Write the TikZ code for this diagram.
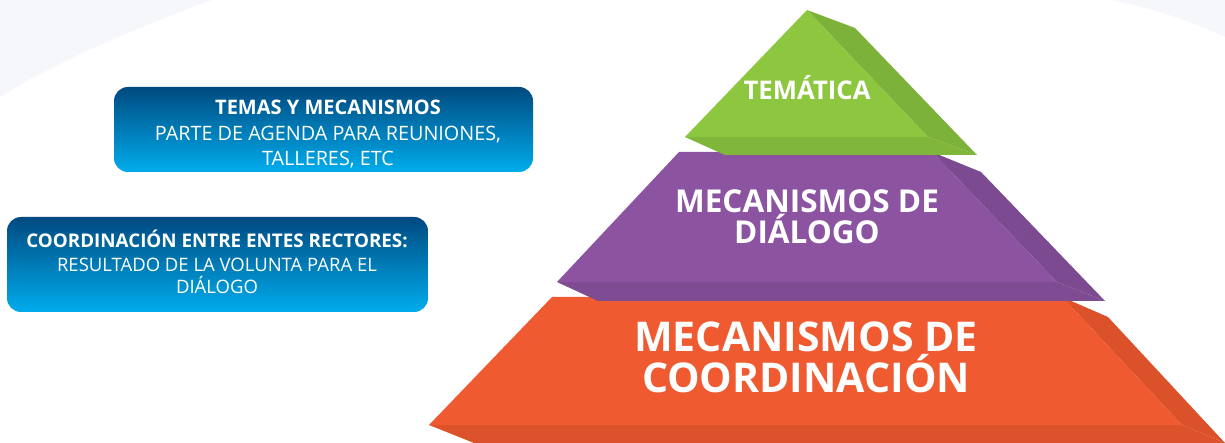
\documentclass[tikz,border=0pt]{standalone}
\usepackage{fontspec}
\setmainfont{Open Sans}
\definecolor{bgfaint}{RGB}{245,247,250}
\definecolor{grF}{RGB}{141,198,63}
\definecolor{grS}{RGB}{125,178,58}
\definecolor{grB}{RGB}{128,183,59}
\definecolor{puF}{RGB}{139,83,160}
\definecolor{puS}{RGB}{124,74,144}
\definecolor{puB}{RGB}{127,75,146}
\definecolor{orF}{RGB}{240,90,48}
\definecolor{orS}{RGB}{218,81,42}
\definecolor{orB}{RGB}{220,82,42}
\definecolor{bxTop}{RGB}{0,74,128}
\definecolor{bxBot}{RGB}{0,172,236}
\tikzset{
  infobox/.style={rounded corners=14pt, top color=bxTop, bottom color=bxBot, draw=none},
  lbl/.style={text=white, anchor=base, inner sep=0pt, font=\bfseries},
  boxline/.style={text=white, anchor=base, inner sep=0pt},
}
\begin{document}
\begin{tikzpicture}[x=1pt,y=-1pt]
\path[use as bounding box] (0,0) rectangle (1225,443);
% faint background shapes
\fill[bgfaint] (0,0) -- (212,0) .. controls (130,30) and (50,65) .. (0,97) -- cycle;
\fill[bgfaint] (1110,0) -- (1225,0) -- (1225,37) .. controls (1190,20) and (1150,8) .. (1110,0) -- cycle;

% orange tier
\fill[orB] (429,425) -- (1182,425) -- (1225,443) -- (474,443) -- cycle;
\fill[orS] (1062,297) -- (1108,317) -- (1225,443) -- (1182,425) -- cycle;
\fill[orF] (552,297) -- (1062,297) -- (1182,425) -- (429,425) -- cycle;
% purple tier
\fill[puB] (557,282) -- (1057,282) -- (1105,301) -- (598,301) -- cycle;
\fill[puS] (932,152) -- (981,172) -- (1105,301) -- (1057,282) -- cycle;
\fill[puF] (679,152) -- (932,152) -- (1057,282) -- (557,282) -- cycle;
% green tier
\fill[grB] (685,137) -- (928,137) -- (977,155) -- (725,155) -- cycle;
\fill[grS] (807,10) -- (855,28) -- (977,155) -- (928,137) -- cycle;
\fill[grF] (807,10) -- (928,137) -- (685,137) -- cycle;

% pyramid labels
\node[lbl, font=\bfseries\fontsize{41}{41}\selectfont] (or1) at (806,351) {MECANISMOS DE};
\node[lbl, font=\bfseries\fontsize{41}{41}\selectfont] (or2) at (806,392) {COORDINACIÓN};
\node[lbl, font=\bfseries\fontsize{31.5}{31.5}\selectfont] (pu1) at (807,213) {MECANISMOS DE};
\node[lbl, font=\bfseries\fontsize{31.5}{31.5}\selectfont] (pu2) at (807,244) {DIÁLOGO};
\node[lbl, font=\bfseries\fontsize{25.7}{25.7}\selectfont] (gr1) at (807,100) {TEMÁTICA};

% info boxes
\path[infobox] (114,87) rectangle (533,172);
\node[boxline, font=\bfseries\fontsize{20}{20}\selectfont] (b1a) at (328,115) {TEMAS Y MECANISMOS};
\node[boxline, font=\fontsize{19.8}{19.8}\selectfont] (b1b) at (328,141) {PARTE DE AGENDA PARA REUNIONES,};
\node[boxline, font=\fontsize{19.8}{19.8}\selectfont] (b1c) at (328,166) {TALLERES, ETC};

\path[infobox] (7,217) rectangle (428,312);
\node[boxline, font=\bfseries\fontsize{18.8}{18.8}\selectfont] (b2a) at (217,248) {COORDINACIÓN ENTRE ENTES RECTORES:};
\node[boxline, font=\fontsize{18.5}{18.5}\selectfont] (b2b) at (217,272) {RESULTADO DE LA VOLUNTA PARA EL};
\node[boxline, font=\fontsize{18.5}{18.5}\selectfont] (b2c) at (217,294) {DIÁLOGO};
\end{tikzpicture}
\end{document}
